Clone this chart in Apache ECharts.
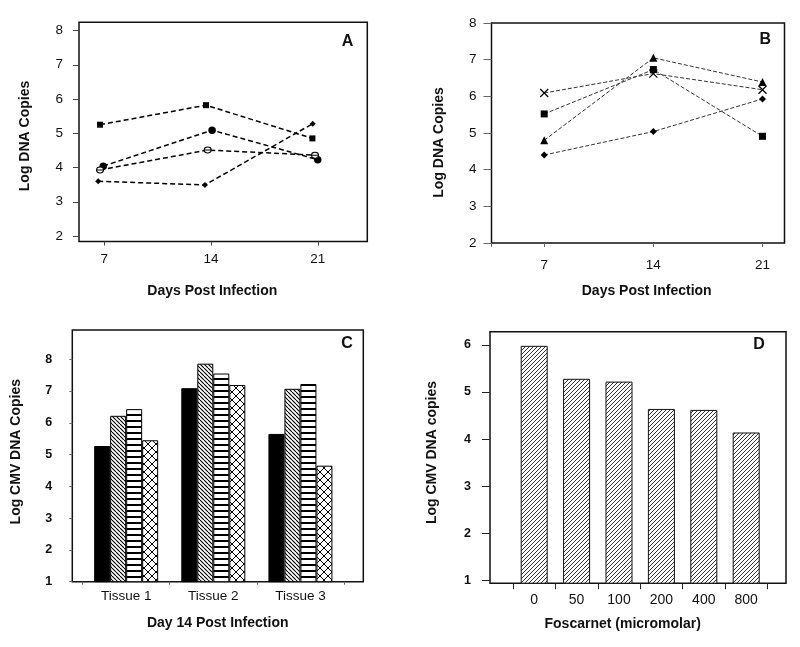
<!DOCTYPE html>
<html><head><meta charset="utf-8">
<script src="https://cdn.jsdelivr.net/npm/echarts@6/dist/echarts.min.js"></script>
<style>html,body{margin:0;padding:0;background:#fff}#c{width:800px;height:647px}</style>
</head><body><div id="c"></div>
<script>
// ---------- Panel A (days post infection, log DNA copies) ----------
const dayTicks = [7, 14, 21];
const logTicksA = [2, 3, 4, 5, 6, 7, 8];
const aSquareDays = [6.72, 13.67, 20.65];
const aSquare = [5.25, 5.82, 4.85];
const aDotDays = [6.93, 14.07, 21.0];
const aDot = [4.04, 5.09, 4.23];
const aRingDays = [6.72, 13.78, 20.82];
const aRing = [3.93, 4.51, 4.36];
const aDiamondDays = [6.6, 13.6, 20.67];
const aDiamond = [3.60, 3.49, 5.28];

// ---------- Panel B ----------
const bDays = [7, 14, 21];
const logTicksB = [2, 3, 4, 5, 6, 7, 8];
const bCross = [6.09, 6.62, 6.18];
const bSquare = [5.52, 6.73, 4.91];
const bTriangle = [4.80, 7.05, 6.39];
const bDiamond = [4.40, 5.04, 5.93];

// ---------- Panel C ----------
const tissues = ['Tissue 1', 'Tissue 2', 'Tissue 3'];
const logTicksC = [1, 2, 3, 4, 5, 6, 7, 8];
const cSolid = [5.27, 7.09, 5.65];
const cDiag = [6.22, 7.86, 7.07];
const cHoriz = [6.43, 7.55, 7.22];
const cCross = [5.45, 7.19, 4.65];

// ---------- Panel D ----------
const foscarnet = ['0', '50', '100', '200', '400', '800'];
const logTicksD = [1, 2, 3, 4, 5, 6];
const dValues = [5.98, 5.28, 5.22, 4.64, 4.62, 4.14];

const FONT = '"Liberation Sans", Arial, Helvetica, sans-serif';
const INK = '#111';

function zip(xs, ys) { return xs.map((x, i) => [x, ys[i]]); }

function makePattern(kind) {
  const c = document.createElement('canvas');
  let s;
  if (kind === 'back') s = 4;
  else if (kind === 'fwd') s = 4;
  else if (kind === 'horiz') s = 6;
  else s = 8;
  c.width = s; c.height = s;
  const g = c.getContext('2d');
  g.fillStyle = '#fff';
  g.fillRect(0, 0, s, s);
  g.strokeStyle = kind === 'fwd' ? '#333' : '#000';
  g.lineWidth = kind === 'cross' ? 1 : (kind === 'fwd' ? 1 : 1.1);
  if (kind === 'horiz') {
    g.fillStyle = '#000';
    g.fillRect(0, 0, s, 2);
    return c;
  }
  g.beginPath();
  for (let k = -1; k <= 1; k++) {
    if (kind === 'back' || kind === 'cross') { g.moveTo(k * s, 0); g.lineTo(k * s + s, s); }
    if (kind === 'fwd' || kind === 'cross') { g.moveTo(k * s, s); g.lineTo(k * s + s, 0); }
  }
  g.stroke();
  return c;
}

const patBack = { image: makePattern('back'), repeat: 'repeat' };
const patHoriz = { image: makePattern('horiz'), repeat: 'repeat' };
const patCross = { image: makePattern('cross'), repeat: 'repeat' };
const patFwd = { image: makePattern('fwd'), repeat: 'repeat' };

const tickLbl = (extra) => Object.assign({ color: INK, fontFamily: FONT, fontSize: 13 }, extra);

function txt(x, y, text, size, rot) {
  return {
    type: 'text', x: x, y: y, rotation: rot || 0,
    style: { text: text, font: 'bold ' + size + 'px ' + FONT, fill: INK,
      align: 'center', verticalAlign: 'middle', textAlign: 'center', textVerticalAlign: 'middle' }
  };
}

const frame = { show: true, borderColor: '#111', borderWidth: 1.5, backgroundColor: 'transparent' };

const option = {
  animation: false,
  backgroundColor: '#fff',
  grid: [
    Object.assign({ left: 79, top: 22.3, width: 288.3, height: 219.2 }, frame),   // A
    Object.assign({ left: 491.5, top: 23, width: 293, height: 220 }, frame),      // B
    Object.assign({ left: 72.3, top: 330, width: 291, height: 251.7 }, frame),    // C frame
    { left: 82.6, top: 330, width: 261.4, height: 251.7, show: false },          // C data
    Object.assign({ left: 490, top: 331.7, width: 296, height: 251.5 }, frame),   // D frame
    { left: 513, top: 331.7, width: 254.4, height: 251.5, show: false }           // D data
  ],
  xAxis: [
    { gridIndex: 0, type: 'value', min: 5.34, max: 24.25, splitLine: { show: false },
      axisLine: { show: false },
      axisTick: { show: true, customValues: dayTicks, length: 4, lineStyle: { color: '#444' } },
      axisLabel: tickLbl({ customValues: dayTicks, margin: 11, fontSize: 13.5 }) },
    { gridIndex: 1, type: 'value', min: 3.62, max: 22.41, splitLine: { show: false },
      axisLine: { show: false },
      axisTick: { show: true, customValues: [3.62].concat(bDays), length: 4, lineStyle: { color: '#666' } },
      axisLabel: tickLbl({ customValues: bDays, margin: 15, fontSize: 13.5 }) },
    { gridIndex: 2, type: 'value', show: false, min: 0, max: 1 },
    { gridIndex: 3, type: 'category', data: tissues,
      axisLine: { show: false },
      axisTick: { show: true, length: 3, lineStyle: { color: '#666' } },
      axisLabel: tickLbl({ margin: 8, fontSize: 13.5 }) },
    { gridIndex: 4, type: 'value', show: false, min: 0, max: 1 },
    { gridIndex: 5, type: 'category', data: foscarnet,
      axisLine: { show: false },
      axisTick: { show: true, length: 6, lineStyle: { color: '#222' } },
      axisLabel: tickLbl({ margin: 10, fontSize: 14 }) }
  ],
  yAxis: [
    { gridIndex: 0, type: 'value', min: 1.84, max: 8.24, splitLine: { show: false },
      axisLine: { show: false },
      axisTick: { show: true, customValues: logTicksA, length: 6, lineStyle: { color: '#444' } },
      axisLabel: tickLbl({ customValues: logTicksA, margin: 16, fontSize: 13.5 }) },
    { gridIndex: 1, type: 'value', min: 2, max: 8, splitLine: { show: false },
      axisLine: { show: false },
      axisTick: { show: true, customValues: logTicksB, length: 8, lineStyle: { color: '#666' } },
      axisLabel: tickLbl({ customValues: logTicksB, margin: 15, fontSize: 13.5 }) },
    { gridIndex: 2, type: 'value', show: false, min: 0, max: 1 },
    { gridIndex: 3, type: 'value', min: 1, max: 8.92, offset: 10.3, splitLine: { show: false },
      axisLine: { show: false },
      axisTick: { show: true, customValues: logTicksC, length: 3, lineStyle: { color: '#666' } },
      axisLabel: tickLbl({ customValues: logTicksC, margin: 20, fontSize: 12.5, fontWeight: 'bold' }) },
    { gridIndex: 4, type: 'value', show: false, min: 0, max: 1 },
    { gridIndex: 5, type: 'value', min: 0.94, max: 6.28, offset: 23, splitLine: { show: false },
      axisLine: { show: false },
      axisTick: { show: true, customValues: logTicksD, length: 8, lineStyle: { color: '#222' } },
      axisLabel: tickLbl({ customValues: logTicksD, margin: 19, fontSize: 12.5, fontWeight: 'bold' }) }
  ],
  series: [
    // Panel A
    { type: 'line', xAxisIndex: 0, yAxisIndex: 0, data: zip(aSquareDays, aSquare),
      symbol: 'rect', symbolSize: 6, itemStyle: { color: '#000' },
      lineStyle: { color: '#000', width: 1.5, type: [5, 3] } },
    { type: 'line', xAxisIndex: 0, yAxisIndex: 0, data: zip(aDotDays, aDot),
      symbol: 'circle', symbolSize: 7.5, itemStyle: { color: '#000' },
      lineStyle: { color: '#000', width: 1.5, type: [5, 3] } },
    { type: 'line', xAxisIndex: 0, yAxisIndex: 0, data: zip(aRingDays, aRing),
      symbol: 'path://M0,4 A4,4 0 1 1 8,4 A4,4 0 1 1 0,4 Z M0,4 L8,4', symbolSize: [7, 6],
      itemStyle: { color: '#fff', borderColor: '#000', borderWidth: 1 },
      lineStyle: { color: '#000', width: 1.5, type: [5, 3] } },
    { type: 'line', xAxisIndex: 0, yAxisIndex: 0, data: zip(aDiamondDays, aDiamond),
      symbol: 'diamond', symbolSize: 6, itemStyle: { color: '#000' },
      lineStyle: { color: '#000', width: 1.5, type: [5, 3] } },
    // Panel B
    { type: 'line', xAxisIndex: 1, yAxisIndex: 1, data: zip(bDays, bCross),
      symbol: 'path://M0,0 L10,10 M10,0 L0,10', symbolSize: 8,
      itemStyle: { color: 'transparent', borderColor: '#000', borderWidth: 1.2 },
      lineStyle: { color: '#333', width: 1, type: [4, 2] } },
    { type: 'line', xAxisIndex: 1, yAxisIndex: 1, data: zip(bDays, bSquare),
      symbol: 'rect', symbolSize: 7, itemStyle: { color: '#000' },
      lineStyle: { color: '#333', width: 1, type: [4, 2] } },
    { type: 'line', xAxisIndex: 1, yAxisIndex: 1, data: zip(bDays, bTriangle),
      symbol: 'triangle', symbolSize: 8, itemStyle: { color: '#000' },
      lineStyle: { color: '#333', width: 1, type: [4, 2] } },
    { type: 'line', xAxisIndex: 1, yAxisIndex: 1, data: zip(bDays, bDiamond),
      symbol: 'diamond', symbolSize: 7, itemStyle: { color: '#000' },
      lineStyle: { color: '#333', width: 1, type: [4, 2] } },
    // Panel C
    { type: 'bar', xAxisIndex: 3, yAxisIndex: 3, data: cSolid, barWidth: 16, barGap: '0%',
      itemStyle: { color: '#000', borderColor: '#000', borderWidth: 1 } },
    { type: 'bar', xAxisIndex: 3, yAxisIndex: 3, data: cDiag, barWidth: 16, barGap: '0%',
      itemStyle: { color: patBack, borderColor: '#000', borderWidth: 1 } },
    { type: 'bar', xAxisIndex: 3, yAxisIndex: 3, data: cHoriz, barWidth: 16, barGap: '0%',
      itemStyle: { color: patHoriz, borderColor: '#000', borderWidth: 1 } },
    { type: 'bar', xAxisIndex: 3, yAxisIndex: 3, data: cCross, barWidth: 16, barGap: '0%',
      itemStyle: { color: patCross, borderColor: '#000', borderWidth: 1 } },
    // Panel D
    { type: 'bar', xAxisIndex: 5, yAxisIndex: 5, data: dValues, barWidth: 27,
      itemStyle: { color: patFwd, borderColor: '#111', borderWidth: 1 } }
  ],
  graphic: [
    txt(25, 136, 'Log DNA Copies', 14, Math.PI / 2),
    txt(212.3, 290.7, 'Days Post Infection', 14),
    txt(347.5, 41.7, 'A', 16),
    txt(439.3, 142.5, 'Log DNA Copies', 14, Math.PI / 2),
    txt(646.7, 290.7, 'Days Post Infection', 14),
    txt(765.3, 40, 'B', 16),
    txt(16, 451.7, 'Log CMV DNA Copies', 14, Math.PI / 2),
    txt(217.7, 622.7, 'Day 14 Post Infection', 14),
    txt(347, 343.8, 'C', 16),
    txt(431.7, 452.5, 'Log CMV DNA copies', 14, Math.PI / 2),
    txt(622.7, 624.3, 'Foscarnet (micromolar)', 14),
    txt(759, 344.7, 'D', 16)
  ]
};

echarts.init(document.getElementById('c'), null, { renderer: 'canvas' }).setOption(option);
</script>
</body></html>
